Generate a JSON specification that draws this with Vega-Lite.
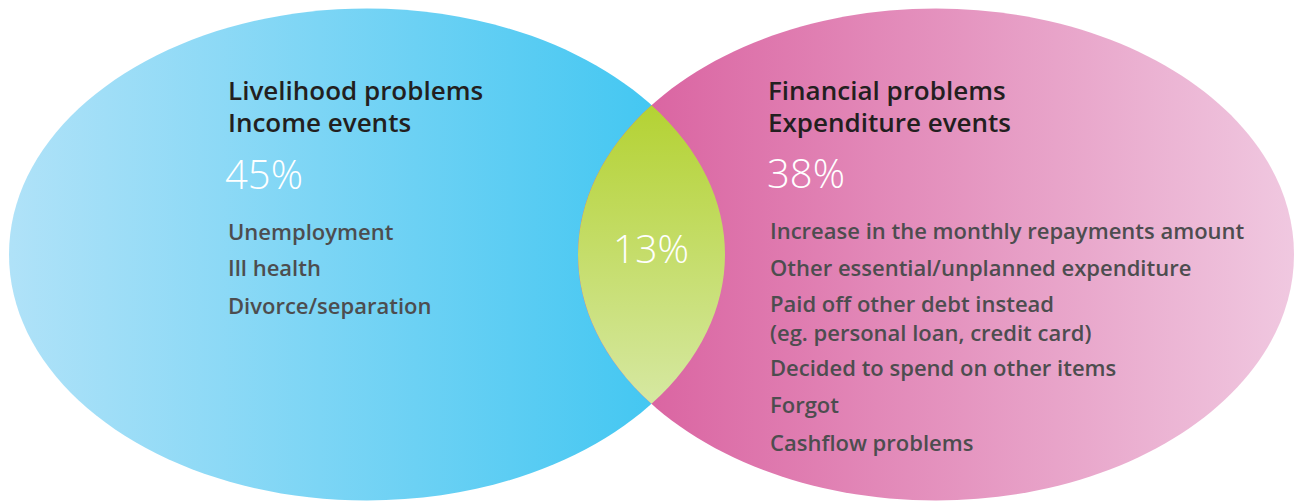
{
  "$schema": "https://vega.github.io/schema/vega-lite/v6.json",
  "width": 1302,
  "height": 501,
  "autosize": {"type": "fit", "contains": "padding"},
  "padding": 0,
  "background": "white",
  "config": {"view": {"stroke": null}},
  "datasets": {
    "left": [{"x": 367, "y": 255}],
    "right": [{"x": 936, "y": 255}],
    "lens": [{"x": 651.5, "y": 255}],
    "titles": [
      {"x": 228, "y": 100, "text": "Livelihood problems"},
      {"x": 228, "y": 132, "text": "Income events"},
      {"x": 768, "y": 100, "text": "Financial problems"},
      {"x": 768, "y": 132, "text": "Expenditure events"}
    ],
    "pcts": [
      {"x": 225, "y": 189, "text": "45%"},
      {"x": 767, "y": 188, "text": "38%"}
    ],
    "mid": [{"x": 651, "y": 264, "text": "13%"}],
    "items": [
      {"x": 228, "y": 240, "text": "Unemployment"},
      {"x": 228, "y": 277, "text": "Ill health"},
      {"x": 228, "y": 315, "text": "Divorce/separation"},
      {"x": 770, "y": 239, "text": "Increase in the monthly repayments amount"},
      {"x": 770, "y": 277, "text": "Other essential/unplanned expenditure"},
      {"x": 770, "y": 313, "text": "Paid off other debt instead"},
      {"x": 770, "y": 342, "text": "(eg. personal loan, credit card)"},
      {"x": 770, "y": 377, "text": "Decided to spend on other items"},
      {"x": 770, "y": 414, "text": "Forgot"},
      {"x": 770, "y": 452, "text": "Cashflow problems"}
    ]
  },
  "encoding": {
    "x": {"field": "x", "type": "quantitative", "scale": {"domain": [0, 1302], "nice": false, "zero": false}, "axis": null},
    "y": {"field": "y", "type": "quantitative", "scale": {"domain": [0, 501], "nice": false, "zero": false, "reverse": true}, "axis": null}
  },
  "layer": [
    {
      "data": {"name": "left"},
      "mark": {
        "type": "point",
        "filled": true,
        "opacity": 1,
        "size": 512656,
        "shape": "M1,0 C1,0.3795 0.5523,0.6872 0,0.6872 C-0.5523,0.6872 -1,0.3795 -1,0 C-1,-0.3795 -0.5523,-0.6872 0,-0.6872 C0.5523,-0.6872 1,-0.3795 1,0 Z",
        "fill": {"gradient": "linear", "x1": 0, "y1": 0, "x2": 1, "y2": 0, "stops": [{"offset": 0, "color": "#b0e2f8"}, {"offset": 1, "color": "#38c4f1"}]},
        "strokeWidth": 0
      }
    },
    {
      "data": {"name": "right"},
      "mark": {
        "type": "point",
        "filled": true,
        "opacity": 1,
        "size": 512656,
        "shape": "M1,0 C1,0.3795 0.5523,0.6872 0,0.6872 C-0.5523,0.6872 -1,0.3795 -1,0 C-1,-0.3795 -0.5523,-0.6872 0,-0.6872 C0.5523,-0.6872 1,-0.3795 1,0 Z",
        "fill": {"gradient": "linear", "x1": 0, "y1": 0, "x2": 1, "y2": 0, "stops": [{"offset": 0, "color": "#d85a9b"}, {"offset": 1, "color": "#f0c8e0"}]},
        "strokeWidth": 0
      }
    },
    {
      "data": {"name": "lens"},
      "mark": {
        "type": "point",
        "filled": true,
        "opacity": 1,
        "size": 89162,
        "shape": "M0,-1 C0.6563,-0.4096 0.6563,0.4096 0,1 C-0.6563,0.4096 -0.6563,-0.4096 0,-1 Z",
        "fill": {"gradient": "linear", "x1": 0, "y1": 0, "x2": 0, "y2": 1, "stops": [{"offset": 0, "color": "#b4d233"}, {"offset": 1, "color": "#d6e8a2"}]},
        "strokeWidth": 0
      }
    },
    {
      "data": {"name": "titles"},
      "mark": {"type": "text", "align": "left", "baseline": "alphabetic", "font": "Open Sans", "fontSize": 26, "fontWeight": 600, "color": "#231f20"},
      "encoding": {"text": {"field": "text"}}
    },
    {
      "data": {"name": "pcts"},
      "mark": {"type": "text", "align": "left", "baseline": "alphabetic", "font": "Open Sans", "fontSize": 40, "fontWeight": 300, "color": "#ffffff"},
      "encoding": {"text": {"field": "text"}}
    },
    {
      "data": {"name": "mid"},
      "mark": {"type": "text", "align": "center", "baseline": "alphabetic", "font": "Open Sans", "fontSize": 39, "fontWeight": 300, "color": "#ffffff", "letterSpacing": -3.5},
      "encoding": {"text": {"field": "text"}}
    },
    {
      "data": {"name": "items"},
      "mark": {"type": "text", "align": "left", "baseline": "alphabetic", "font": "Open Sans", "fontSize": 22, "fontWeight": 600, "color": "#4d4d4f"},
      "encoding": {"text": {"field": "text"}}
    }
  ]
}
